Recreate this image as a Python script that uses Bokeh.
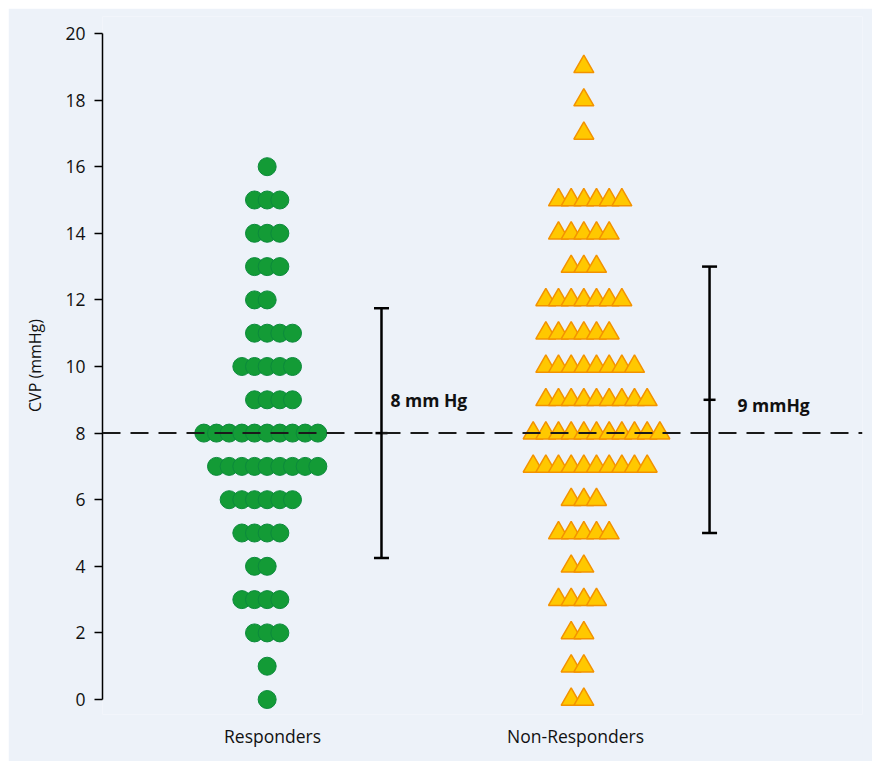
from bokeh.plotting import figure
from bokeh.models import (ColumnDataSource, Range1d, FixedTicker, Span, Whisker,
                          TeeHead, LabelSet)
from bokeh.core.properties import value
from bokeh.embed import file_html
from bokeh.resources import INLINE

# ---------------- data ----------------
categories = ["Responders", "Non-Responders"]
group_x = [1.0, 2.0]

# Responders: CVP level, number of patients, leftmost slot of the row
resp_levels = [16, 15, 14, 13, 12, 11, 10, 9, 8, 7, 6, 5, 4, 3, 2, 1, 0]
resp_counts = [1, 3, 3, 3, 2, 4, 5, 4, 10, 9, 6, 4, 2, 4, 3, 1, 1]
resp_first = [0, -1, -1, -1, -1, -1, -2, -1, -5, -4, -3, -2, -1, -2, -1, 0, 0]

# Non-responders
nonr_levels = [19, 18, 17, 15, 14, 13, 12, 11, 10, 9, 8, 7, 6, 5, 4, 3, 2, 1, 0]
nonr_counts = [1, 1, 1, 6, 5, 3, 7, 6, 8, 9, 11, 10, 3, 5, 2, 4, 2, 2, 2]
nonr_first = [0, 0, 0, -2, -2, -1, -3, -3, -3, -3, -4, -4, -1, -2, -1, -2, -1, -1, -1]

# summary bars (median and range shown)
bar_mid = [8, 9]
bar_low = [4.25, 5]
bar_high = [11.75, 13]
bar_text = ["8 mm Hg", "9 mmHg"]
threshold = 8

yticks = list(range(0, 21, 2))

# ---------------- layout constants ----------------
SLOT = 0.04          # horizontal spacing of stacked markers (data units)
TICK_SHIFT = [0.017, -0.026]
BAR_X = [1.361, 2.397]
LABEL_Y = [9.0, 8.85]
LABEL_DX = [9, 28]
BG = "#EDF2F9"
FONT = "Open Sans"


def swarm(center, levels, counts, first):
    xs, ys = [], []
    for lv, n, f in zip(levels, counts, first):
        for k in range(n):
            xs.append(center + (f + k) * SLOT)
            ys.append(lv)
    return xs, ys


rx, ry = swarm(group_x[0], resp_levels, resp_counts, resp_first)
nx, ny = swarm(group_x[1], nonr_levels, nonr_counts, nonr_first)

p = figure(width=864, height=753, output_backend="svg", toolbar_location=None,
           x_range=Range1d(0.48, 2.88), y_range=Range1d(-0.45, 20.51),
           min_border_left=94, min_border_right=10, min_border_top=8,
           min_border_bottom=47)
p.margin = (8, 0, 0, 8)
p.background_fill_color = BG
p.border_fill_color = BG
p.outline_line_color = None
p.grid.visible = False

# threshold line
p.add_layout(Span(location=threshold, dimension="width", line_color="#1a1a1a",
                  line_width=2, line_dash="18 10"))

# markers
p.scatter(rx, ry, marker="circle", size=18, fill_color="#139B36",
          line_color="#0C8A3C", line_width=1)
p.scatter(nx, ny, marker="triangle", size=20, fill_color="#FFC800",
          line_color="#F39200", line_width=1.5)

# range bars
src = ColumnDataSource(dict(x=BAR_X, lo=bar_low, hi=bar_high, mid=bar_mid,
                            ly=LABEL_Y, txt=bar_text, dx=LABEL_DX))
p.add_layout(Whisker(base="x", lower="lo", upper="hi", source=src,
                     dimension="height", line_width=2.5, line_color="black",
                     lower_head=TeeHead(size=15, line_width=2.5, line_color="black"),
                     upper_head=TeeHead(size=15, line_width=2.5, line_color="black")))
p.scatter("x", "mid", source=src, marker="dash", size=12, line_width=2.5,
          line_color="black")
p.add_layout(LabelSet(x="x", y="ly", text="txt", source=src, x_offset="dx",
                      text_font=value(FONT), text_font_style="bold",
                      text_font_size="17.5px", text_color="#111111",
                      text_baseline="middle", text_align="left"))

# y axis
ya = p.yaxis[0]
ya.ticker = FixedTicker(ticks=yticks)
ya.bounds = (0, 20)
ya.axis_label = "CVP (mmHg)"
ya.axis_label_text_font = FONT
ya.axis_label_text_font_style = "normal"
ya.axis_label_text_font_size = "16px"
ya.axis_label_text_color = "#111111"
ya.axis_label_standoff = 16
ya.major_label_text_font = FONT
ya.major_label_text_font_size = "17.5px"
ya.major_label_text_color = "#111111"
ya.major_label_standoff = 9
ya.major_tick_out = 8
ya.major_tick_in = 0
ya.minor_tick_out = 0
ya.minor_tick_in = 0
ya.axis_line_width = 1.5
ya.major_tick_line_width = 1.5
ya.axis_line_color = "black"

# x axis: category labels only
tick_pos = [gx + s for gx, s in zip(group_x, TICK_SHIFT)]
xa = p.xaxis[0]
xa.ticker = FixedTicker(ticks=tick_pos)
xa.major_label_overrides = {t: c for t, c in zip(tick_pos, categories)}
xa.axis_line_color = None
xa.major_tick_line_color = None
xa.minor_tick_line_color = None
xa.major_label_standoff = 3
xa.major_label_text_font = FONT
xa.major_label_text_font_size = "17.5px"
xa.major_label_text_color = "#111111"

open("out.html", "w").write(file_html(p, INLINE))
